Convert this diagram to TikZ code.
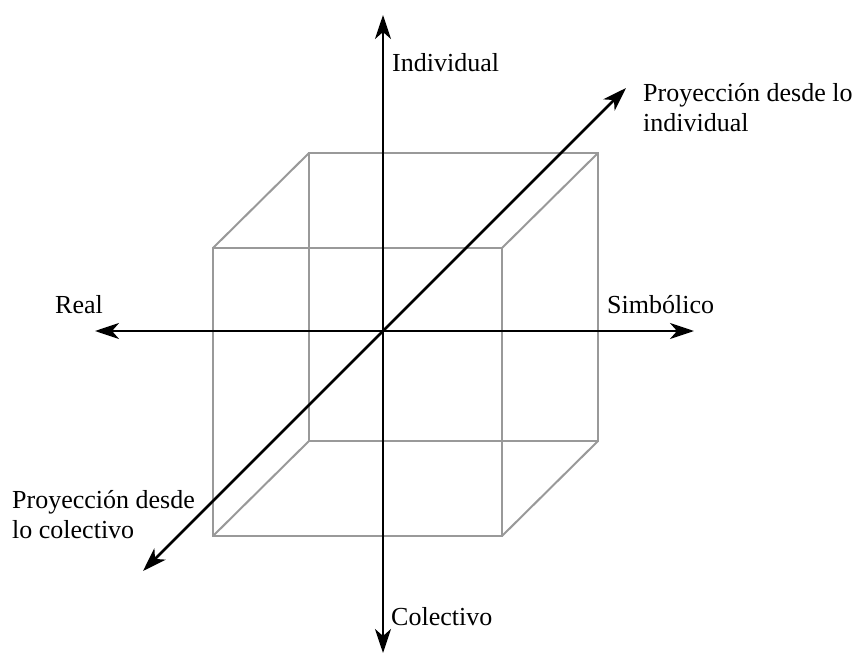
\documentclass[tikz,border=0pt]{standalone}
\usepackage{fontspec}
\setmainfont{Liberation Serif}
\usetikzlibrary{arrows.meta}
\definecolor{cubegray}{RGB}{153,153,153}
\begin{document}
\begin{tikzpicture}[x=1pt,y=-1pt,
  axis/.style={line width=2.6pt, {Stealth[length=24pt,width=16pt,inset=7pt]}-{Stealth[length=24pt,width=16pt,inset=7pt]}},
  cubeedge/.style={draw=cubegray, line width=2pt, line join=miter},
  lbl/.style={font=\fontsize{26}{30}\selectfont, inner sep=0pt, anchor=base west, align=left}]
\useasboundingbox (0,0) rectangle (859,655);
% cube
\coordinate (f1) at (213,248);
\coordinate (f2) at (502,248);
\coordinate (f3) at (502,536);
\coordinate (f4) at (213,536);
\coordinate (b1) at (309,153);
\coordinate (b2) at (598,153);
\coordinate (b3) at (598,441);
\coordinate (b4) at (309,441);
\draw[cubeedge] (f1) -- (f2) -- (f3) -- (f4) -- cycle;
\draw[cubeedge] (b1) -- (b2) -- (b3) -- (b4) -- cycle;
\draw[cubeedge] (f1) -- (b1);
\draw[cubeedge] (f2) -- (b2);
\draw[cubeedge] (f3) -- (b3);
\draw[cubeedge] (f4) -- (b4);
% axes
\coordinate (vtop) at (383,15);
\coordinate (vbot) at (383,653);
\coordinate (hleft) at (95,331);
\coordinate (hright) at (694,331);
\coordinate (dlow) at (143,571);
\coordinate (dhigh) at (626,88);
\draw[axis] (vtop) -- (vbot);
\draw[axis] (hleft) -- (hright);
\draw[axis] (dlow) -- (dhigh);
% labels
\node[lbl] (individual) at (392,72) {Individual};
\node[lbl] (simbolico) at (607,313) {Simbólico};
\node[lbl] (real) at (55,313) {Real};
\node[lbl] (colectivo) at (391,625) {Colectivo};
\node[lbl] (proyind) at (643,132) {Proyección desde lo\\individual};
\node[lbl] (proycol) at (12,538) {Proyección desde\\lo colectivo};
\end{tikzpicture}
\end{document}
